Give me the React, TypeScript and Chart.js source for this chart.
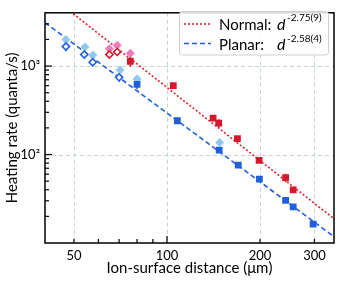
import React, { useEffect, useRef } from 'react';
import { Chart, registerables } from 'chart.js';

Chart.register(...registerables);

// ---- data ----
const planarFilledX = [80, 108, 147.5, 170, 199, 242, 256, 297];
const planarFilledY = [620, 241, 112, 75.8, 52.6, 30.3, 25.6, 16.3];
const planarFilledErr = [70, 0, 0, 0, 0, 0, 0, 0];

const planarLightX = [47.1, 54.3, 57.6, 70.5, 80, 148];
const planarLightY = [2000, 1640, 1330, 904, 716, 137];

const planarOpenX = [47.1, 54, 57.5, 70];
const planarOpenY = [1660, 1350, 1105, 745];
const planarOpenErr = [190, 0, 0, 75];

const normalFilledX = [76.1, 104.8, 141, 147, 169, 198.6, 242, 256];
const normalFilledY = [1134, 601, 258, 226, 151, 86, 54.7, 39.9];
const normalFilledErr = [150, 0, 0, 25, 0, 0, 6, 0];

const normalPinkX = [65.1, 69, 76.1];
const normalPinkY = [1572, 1724, 1397];

const normalOpenX = [65.1, 69];
const normalOpenY = [1351, 1446];

const fitNormalX = [49.7, 347];
const fitNormalY = [3900, 18.8];
const fitPlanarX = [40.3, 347];
const fitPlanarY = [3097, 11.8];

const xTickValues = [50, 100, 200, 300];
const xTickLabels = ['50', '100', '200', '300'];
const xMajorTicks = [100];
const xMinorTicks = [50, 60, 70, 80, 90, 200, 300];
const yTickValues = [100, 1000];
const yTickLabels = ['10²', '10³'];
const yMajorTicks = [100, 1000];
const yMinorTicks = [20, 30, 40, 50, 60, 70, 80, 90, 200, 300, 400, 500, 600, 700, 800, 900, 2000, 3000];

const X_MIN = 40.3;
const X_MAX = 347;
const Y_MIN = 10;
const Y_MAX = 4000;

const RED = '#d4192c';
const RED_LINE = '#e0202c';
const BLUE = '#1f5fdc';
const PINK = '#ee7cb9';
const LIGHT_BLUE = '#8fc9f0';
const GRID = '#c2d6d2';
const FONT = 'Lato';
const TEXT = '#000';

const pts = (xs: number[], ys: number[]) => xs.map((x, i) => ({ x, y: ys[i] }));

const decor = {
  id: 'decor',
  beforeDatasetsDraw(chart: any) {
    const { ctx, chartArea: a, scales } = chart;
    const x = scales.x;
    const y = scales.y;
    ctx.save();
    ctx.strokeStyle = GRID;
    ctx.lineWidth = 1;
    ctx.setLineDash([4, 3]);
    xTickValues.forEach((v) => {
      const px = Math.round(x.getPixelForValue(v)) + 0.5;
      ctx.beginPath();
      ctx.moveTo(px, a.top);
      ctx.lineTo(px, a.bottom);
      ctx.stroke();
    });
    yTickValues.forEach((v) => {
      const py = Math.round(y.getPixelForValue(v)) + 0.5;
      ctx.beginPath();
      ctx.moveTo(a.left, py);
      ctx.lineTo(a.right, py);
      ctx.stroke();
    });
    ctx.setLineDash([]);
    const bars = (xs: number[], ys: number[], es: number[], color: string) => {
      ctx.strokeStyle = color;
      ctx.lineWidth = 1.6;
      xs.forEach((xv, i) => {
        if (!es[i]) return;
        const px = x.getPixelForValue(xv);
        ctx.beginPath();
        ctx.moveTo(px, y.getPixelForValue(ys[i] + es[i]));
        ctx.lineTo(px, y.getPixelForValue(ys[i] - es[i]));
        ctx.stroke();
      });
    };
    bars(planarOpenX, planarOpenY, planarOpenErr, BLUE);
    bars(planarFilledX, planarFilledY, planarFilledErr, BLUE);
    bars(normalFilledX, normalFilledY, normalFilledErr, RED);
    ctx.restore();
  },
  afterDraw(chart: any) {
    const { ctx, chartArea: a, scales } = chart;
    const x = scales.x;
    const y = scales.y;
    ctx.save();
    ctx.strokeStyle = '#000';
    ctx.lineWidth = 1.5;
    ctx.strokeRect(a.left, a.top, a.right - a.left, a.bottom - a.top);
    ctx.lineWidth = 1.2;
    const xt = (v: number, len: number) => {
      const px = x.getPixelForValue(v);
      ctx.beginPath();
      ctx.moveTo(px, a.bottom);
      ctx.lineTo(px, a.bottom - len);
      ctx.stroke();
    };
    const yt = (v: number, len: number) => {
      const py = y.getPixelForValue(v);
      ctx.beginPath();
      ctx.moveTo(a.left, py);
      ctx.lineTo(a.left + len, py);
      ctx.stroke();
    };
    xMajorTicks.forEach((v) => xt(v, 7));
    xMinorTicks.forEach((v) => xt(v, 4));
    yMajorTicks.forEach((v) => yt(v, 7));
    yMinorTicks.forEach((v) => yt(v, 4));

    // legend
    const bx = 179.5, by = 11.5, bw = 149, bh = 43.5;
    ctx.fillStyle = 'rgba(255,255,255,0.85)';
    ctx.strokeStyle = '#cfcfcf';
    ctx.lineWidth = 1;
    ctx.beginPath();
    if ((ctx as any).roundRect) (ctx as any).roundRect(bx, by, bw, bh, 3);
    else ctx.rect(bx, by, bw, bh);
    ctx.fill();
    ctx.stroke();

    ctx.lineWidth = 1.6;
    ctx.strokeStyle = RED_LINE;
    ctx.setLineDash([2, 2]);
    ctx.beginPath();
    ctx.moveTo(184, 24);
    ctx.lineTo(211, 24);
    ctx.stroke();
    ctx.strokeStyle = BLUE;
    ctx.setLineDash([5, 3]);
    ctx.beginPath();
    ctx.moveTo(184, 43.5);
    ctx.lineTo(211, 43.5);
    ctx.stroke();
    ctx.setLineDash([]);

    ctx.fillStyle = TEXT;
    ctx.textAlign = 'left';
    ctx.textBaseline = 'alphabetic';
    const row = (label: string, exp: string, base: number) => {
      ctx.font = `15px ${FONT}`;
      ctx.fillText(label, 219, base);
      ctx.font = `italic 16px ${FONT}`;
      ctx.fillText('d', 277, base);
      ctx.font = `10px ${FONT}`;
      ctx.fillText(exp, 287, base - 8.5);
    };
    row('Normal:', '-2.75(9)', 29.5);
    row('Planar:', '-2.58(4)', 50);
    ctx.restore();
  },
};

export default function App() {
  const ref = useRef<HTMLCanvasElement | null>(null);
  useEffect(() => {
    if (!ref.current) return;
    const chart = new Chart(ref.current, {
      type: 'scatter',
      data: {
        datasets: [
          {
            label: 'Normal fit',
            data: pts(fitNormalX, fitNormalY),
            showLine: true,
            borderColor: RED_LINE,
            borderDash: [2, 2],
            borderWidth: 1.6,
            pointRadius: 0,
            order: 10,
          },
          {
            label: 'Planar fit',
            data: pts(fitPlanarX, fitPlanarY),
            showLine: true,
            borderColor: BLUE,
            borderDash: [5, 3],
            borderWidth: 1.6,
            pointRadius: 0,
            order: 10,
          },
          {
            label: 'Planar light',
            data: pts(planarLightX, planarLightY),
            pointStyle: 'rectRot',
            pointRadius: 4.5,
            backgroundColor: LIGHT_BLUE,
            borderColor: LIGHT_BLUE,
            borderWidth: 0,
            order: 6,
          },
          {
            label: 'Normal pink',
            data: pts(normalPinkX, normalPinkY),
            pointStyle: 'rectRot',
            pointRadius: 4.5,
            backgroundColor: PINK,
            borderColor: PINK,
            borderWidth: 0,
            order: 6,
          },
          {
            label: 'Planar open',
            data: pts(planarOpenX, planarOpenY),
            pointStyle: 'rectRot',
            pointRadius: 3.6,
            backgroundColor: '#ffffff',
            borderColor: BLUE,
            borderWidth: 1.6,
            order: 5,
          },
          {
            label: 'Normal open',
            data: pts(normalOpenX, normalOpenY),
            pointStyle: 'rectRot',
            pointRadius: 3.6,
            backgroundColor: '#ffffff',
            borderColor: RED,
            borderWidth: 1.6,
            order: 5,
          },
          {
            label: 'Planar filled',
            data: pts(planarFilledX, planarFilledY),
            pointStyle: 'rect',
            pointRadius: 4.8,
            backgroundColor: BLUE,
            borderColor: BLUE,
            borderWidth: 0,
            order: 4,
          },
          {
            label: 'Normal filled',
            data: pts(normalFilledX, normalFilledY),
            pointStyle: 'rect',
            pointRadius: 4.8,
            backgroundColor: RED,
            borderColor: RED,
            borderWidth: 0,
            order: 4,
          },
        ],
      },
      options: {
        animation: false,
        responsive: false,
        layout: { padding: { left: 0, top: 5, right: 7, bottom: 0 } },
        plugins: { legend: { display: false }, tooltip: { enabled: false } },
        scales: {
          x: {
            type: 'logarithmic',
            min: X_MIN,
            max: X_MAX,
            grid: { display: false, drawTicks: false },
            border: { display: false },
            afterBuildTicks: (s: any) => {
              s.ticks = xTickValues.map((v) => ({ value: v }));
            },
            afterFit: (s: any) => {
              s.height = 38;
            },
            ticks: {
              autoSkip: false,
              maxRotation: 0,
              padding: 5,
              color: TEXT,
              font: { family: FONT, size: 13 },
              callback: (v: any) => {
                const i = xTickValues.indexOf(Number(v));
                return i >= 0 ? xTickLabels[i] : '';
              },
            },
            title: {
              display: true,
              text: 'Ion-surface distance (μm)',
              color: TEXT,
              font: { family: FONT, size: 15 },
              padding: { top: 0, bottom: 4 },
            },
          },
          y: {
            type: 'logarithmic',
            min: Y_MIN,
            max: Y_MAX,
            grid: { display: false, drawTicks: false },
            border: { display: false },
            afterBuildTicks: (s: any) => {
              s.ticks = yTickValues.map((v) => ({ value: v }));
            },
            afterFit: (s: any) => {
              s.width = 45;
            },
            ticks: {
              autoSkip: false,
              padding: 5,
              color: TEXT,
              font: { family: FONT, size: 13 },
              callback: (v: any) => {
                const i = yTickValues.indexOf(Number(v));
                return i >= 0 ? yTickLabels[i] : '';
              },
            },
            title: {
              display: true,
              text: 'Heating rate (quanta/s)',
              color: TEXT,
              font: { family: FONT, size: 15 },
              padding: { top: 3, bottom: 0 },
            },
          },
        },
      },
      plugins: [decor],
    } as any);
    return () => chart.destroy();
  }, []);
  return (
    <div style={{ position: 'fixed', left: 0, top: 0, width: 341, height: 281, background: '#fff' }}>
      <canvas ref={ref} width={341} height={281} style={{ display: 'block', width: 341, height: 281 }} />
    </div>
  );
}
